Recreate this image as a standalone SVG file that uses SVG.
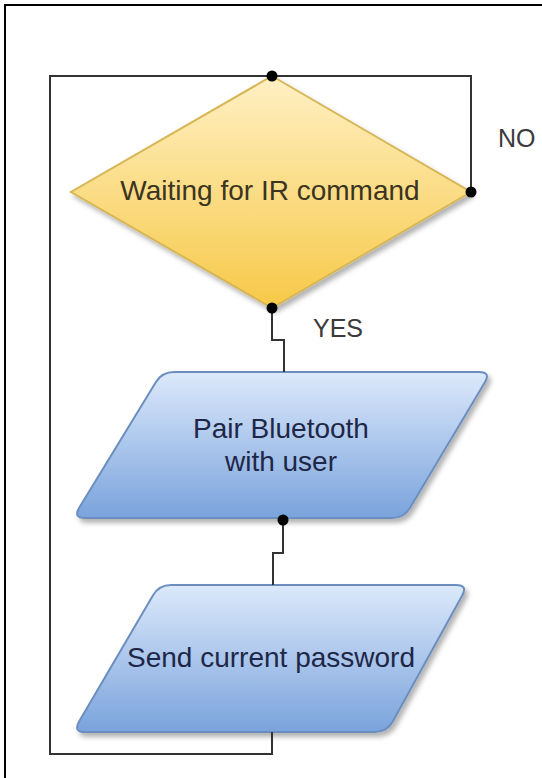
<svg xmlns="http://www.w3.org/2000/svg" width="542" height="778" viewBox="0 0 542 778">
<defs>
<linearGradient id="gy" x1="0" y1="0" x2="0" y2="1">
<stop offset="0" stop-color="#fff0c4"/>
<stop offset="1" stop-color="#f7c948"/>
</linearGradient>
<linearGradient id="gb" x1="0" y1="0" x2="0" y2="1">
<stop offset="0" stop-color="#dce9fb"/>
<stop offset="1" stop-color="#7aa3dc"/>
</linearGradient>
<filter id="sh" x="-10%" y="-10%" width="125%" height="130%">
<feDropShadow dx="3" dy="4" stdDeviation="2.5" flood-color="#000" flood-opacity="0.3"/>
</filter>
<style>
.lbl{font-family:"Liberation Sans",Arial,sans-serif;font-size:28px;text-anchor:middle}
.edge{fill:none;stroke:#333;stroke-width:2}
.dot{fill:#000}
.elbl{font-family:"Liberation Sans",Arial,sans-serif;font-size:25px;fill:#3a3a3a}
</style>
</defs>
<rect width="542" height="778" fill="#fff"/>
<rect x="5" y="5" width="600" height="800" fill="none" stroke="#000" stroke-width="2"/>
<g id="decision">
<polygon points="272,76 471,192 272,308 71,192" fill="url(#gy)" stroke="#d6b656" stroke-width="2" filter="url(#sh)"/>
<text class="lbl" x="270" y="200" fill="#3b3421">Waiting for IR command</text>
</g>
<g id="pair">
<path d="M174,372 L479,372 Q491,372 484.9,382.3 L410.1,507.7 Q404,518 392,518 L85,518 Q73,518 79.2,507.8 L155.8,382.2 Q162,372 174,372 Z" fill="url(#gb)" stroke="#6c8ebf" stroke-width="2" filter="url(#sh)"/>
<text class="lbl" x="281" y="438" fill="#1e2747">Pair Bluetooth</text>
<text class="lbl" x="281" y="471" fill="#1e2747">with user</text>
</g>
<g id="send">
<path d="M171,585 L456,585 Q468,585 462.2,595.5 L392.8,721.5 Q387,732 375,732 L85,732 Q73,732 79.1,721.6 L152.9,595.4 Q159,585 171,585 Z" fill="url(#gb)" stroke="#6c8ebf" stroke-width="2" filter="url(#sh)"/>
<text class="lbl" x="271" y="667" fill="#1e2747">Send current password</text>
</g>
<g id="connectors">
<path class="edge" d="M471,192 V76 H272"/>
<path class="edge" d="M272,732 V754 H50 V76 H272"/>
<path class="edge" d="M272,308 V340 H284 V372"/>
<path class="edge" d="M283,520 V553 H273 V585"/>
<circle class="dot" cx="272" cy="76" r="5.5"/>
<circle class="dot" cx="471" cy="192" r="5.5"/>
<circle class="dot" cx="272" cy="308" r="5.5"/>
<circle class="dot" cx="283" cy="520" r="5.5"/>
<text class="elbl" x="498" y="147">NO</text>
<text class="elbl" x="313" y="337">YES</text>
</g>
</svg>
